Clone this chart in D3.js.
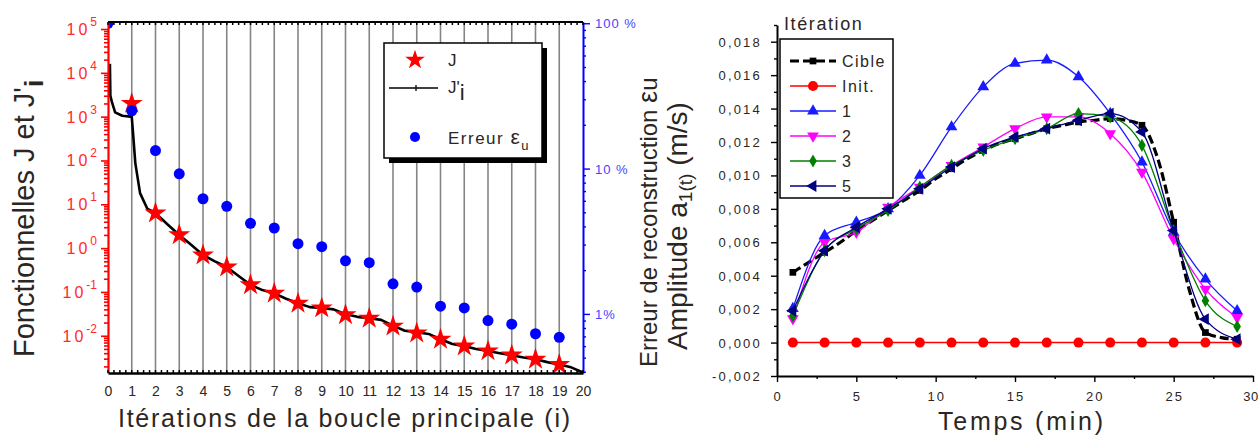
<!DOCTYPE html>
<html>
<head>
<meta charset="utf-8">
<script src="https://cdn.jsdelivr.net/npm/d3@7"></script>
<style>
  html, body { margin: 0; background: #fff; }
  svg { display: block; font-family: "Liberation Sans", Arial, sans-serif; }
</style>
</head>
<body>
<svg id="chart" width="1260" height="437"></svg>
<script>
// Panneau gauche : fonctionnelles J, J'i (échelle log) et erreur de reconstruction (%)
const iterJ = [1, 2, 3, 4, 5, 6, 7, 8, 9, 10, 11, 12, 13, 14, 15, 16, 17, 18, 19]
const valJ = [2000, 6.3, 2.0, 0.69, 0.37, 0.145, 0.093, 0.055, 0.043, 0.030, 0.025, 0.0165, 0.0115, 0.0083, 0.0058, 0.0045, 0.0036, 0.0029, 0.0022]

const iterJi = [0.08, 0.1, 0.16, 0.3, 0.6, 0.95, 1.0, 1.05, 1.1, 1.15, 1.35, 1.65, 1.85, 2, 2.5, 3, 3.5, 4, 4.5, 5, 5.5, 6, 6.5, 7, 7.5, 8, 8.5, 9, 9.5, 10, 10.5, 11, 11.5, 12, 12.5, 13, 13.5, 14, 14.5, 15, 15.5, 16, 16.5, 17, 17.5, 18, 18.5, 19, 19.5, 20]
const valJi = [16000, 3000, 2200, 1250, 1050, 1000, 1000, 450, 200, 87, 18, 8, 7, 6.3, 3.5, 2.0, 1.2, 0.70, 0.50, 0.37, 0.23, 0.145, 0.11, 0.093, 0.07, 0.055, 0.045, 0.043, 0.040, 0.031, 0.027, 0.025, 0.023, 0.017, 0.013, 0.012, 0.011, 0.0083, 0.0065, 0.0058, 0.005, 0.0045, 0.004, 0.0036, 0.0032, 0.0029, 0.0025, 0.0022, 0.0019, 0.00145]

const iterErr = [0, 1, 2, 3, 4, 5, 6, 7, 8, 9, 10, 11, 12, 13, 14, 15, 16, 17, 18, 19]
const valErr = [100, 25, 13.3, 9.2, 6.2, 5.5, 4.2, 3.9, 3.04, 2.9, 2.32, 2.25, 1.61, 1.53, 1.13, 1.10, 0.90, 0.85, 0.73, 0.69]

const iterTicks = [0, 1, 2, 3, 4, 5, 6, 7, 8, 9, 10, 11, 12, 13, 14, 15, 16, 17, 18, 19, 20]
const fonctExp = [-2, -1, 0, 1, 2, 3, 4, 5]
const errTicks = [1, 10, 100]
const errLabels = ["1%", "10 %", "100 %"]

// Panneau droit : amplitude a1(t)
const temps = [1, 3, 5, 7, 9, 11, 13, 15, 17, 19, 21, 23, 25, 27, 29]
const init = [0, 0, 0, 0, 0, 0, 0, 0, 0, 0, 0, 0, 0, 0, 0]
const iter1 = [0.00203, 0.0064, 0.0072, 0.0080, 0.0100, 0.0129, 0.0153, 0.0167, 0.0169, 0.0159, 0.0137, 0.0108, 0.0066, 0.0038, 0.0019]
const iter2 = [0.00143, 0.0060, 0.0066, 0.0081, 0.0093, 0.0106, 0.0117, 0.0128, 0.0135, 0.0135, 0.0125, 0.0102, 0.0062, 0.0032, 0.0015]
const iter3 = [0.0016, 0.0055, 0.0068, 0.0079, 0.0093, 0.0106, 0.0115, 0.0122, 0.0128, 0.0137, 0.0135, 0.0118, 0.0067, 0.0025, 0.00096]
const iter5 = [0.0019, 0.0055, 0.0069, 0.0080, 0.0092, 0.0105, 0.0116, 0.0123, 0.0128, 0.0133, 0.0137, 0.0126, 0.0067, 0.0014, 0.0002]
const tempsCible = [1, 2, 3, 4, 5, 6, 7, 8, 9, 10, 11, 12, 13, 14, 15, 16, 17, 18, 19, 20, 21, 22, 23, 24, 25, 26, 27, 28, 29]
const cible = [0.0042, 0.0048, 0.0054, 0.0060, 0.0067, 0.0073, 0.0079, 0.0085, 0.0091, 0.0098, 0.0104, 0.0110, 0.0115, 0.0119, 0.0122, 0.0125, 0.0128, 0.0130, 0.0132, 0.0133, 0.0134, 0.0133, 0.0130, 0.0110, 0.0072, 0.0031, 0.0006, 0.0003, 0.0002]
const seriesNames = ["Cible", "Init.", "1", "2", "3", "5"]
const tempsTicks = [0, 5, 10, 15, 20, 25, 30]
const ampTicks = [-0.002, 0, 0.002, 0.004, 0.006, 0.008, 0.010, 0.012, 0.014, 0.016, 0.018]

const svg = d3.select("#chart")
const TXT = "#2b2622"

// ---------------- Panneau gauche ----------------
const x = d3.scaleLinear().domain([0, 20]).range([108, 583])
const yJ = d3.scaleLog().domain([10 ** -2.85, 10 ** 5.16]).range([373, 22])
const yE = d3.scaleLog().domain([0.392, 102]).range([373, 22])
const yTop = 22, yBot = 373

// zone de tracé (les marqueurs sont coupés au cadre, comme dans Origin)
svg.append("clipPath").attr("id", "clipL")
  .append("rect").attr("x", x(0)).attr("y", yTop).attr("width", x(20) - x(0)).attr("height", yBot - yTop)

// grille verticale grise
svg.append("g").selectAll("line")
  .data(iterTicks.filter(d => d > 0 && d < 20))
  .join("line")
  .attr("x1", d => x(d)).attr("x2", d => x(d))
  .attr("y1", yTop).attr("y2", yBot)
  .attr("stroke", "#858585").attr("stroke-width", 1.6)

// axe gauche rouge (log)
const minorJ = []
for (let e = -3; e <= 5; e++) for (let m = 2; m <= 9; m++) {
  const v = m * 10 ** e
  if (v > yJ.domain()[0] && v < yJ.domain()[1]) minorJ.push(v)
}
const majorJ = fonctExp.map(e => 10 ** e)

// courbe J'i
const lineJi = d3.line().x(d => x(d[0])).y(d => yJ(d[1]))
svg.append("path")
  .datum(iterJi.map((t, i) => [t, valJi[i]]))
  .attr("d", lineJi)
  .attr("fill", "none").attr("stroke", "#000").attr("stroke-width", 2.6)
  .attr("stroke-linejoin", "round")

// étoiles J
const star = d3.symbol().type(d3.symbolStar).size(150)
svg.append("g").selectAll("path")
  .data(iterJ.map((t, i) => [t, valJ[i]]))
  .join("path")
  .attr("transform", d => `translate(${x(d[0])},${yJ(d[1])})`)
  .attr("d", star).attr("fill", "#ff0000")

// points erreur
const dot = d3.symbol().type(d3.symbolCircle).size(95)
svg.append("g").attr("clip-path", "url(#clipL)").selectAll("path")
  .data(iterErr.map((t, i) => [t, valErr[i]]))
  .join("path")
  .attr("transform", d => `translate(${x(d[0])},${yE(d[1])})`)
  .attr("d", dot).attr("fill", "#0000ff")

const gL = svg.append("g").attr("transform", `translate(${x(0)},0)`)
  .call(d3.axisLeft(yJ).tickValues(majorJ.concat(minorJ)).tickFormat("").tickSizeOuter(0))
gL.select(".domain").attr("stroke", "#ff0000").attr("stroke-width", 2.2)
gL.selectAll(".tick line").attr("stroke", "#ff0000").attr("stroke-width", 1.6)
  .attr("x2", d => majorJ.includes(d) ? -7 : -4)

const lblJ = svg.append("g").attr("fill", "#ff2a2a")
fonctExp.forEach(e => {
  const t = lblJ.append("text")
    .attr("x", 97).attr("y", yJ(10 ** e) + 6)
    .attr("text-anchor", "end")
  t.append("tspan").attr("font-size", 16).attr("letter-spacing", 3).text("10")
  t.append("tspan").attr("font-size", 12).attr("dy", -9).text(e)
})

// axe droit bleu (log, %)
const minorE = []
for (let e = -1; e <= 1; e++) for (let m = 2; m <= 9; m++) {
  const v = m * 10 ** e
  if (v > yE.domain()[0] && v < yE.domain()[1]) minorE.push(v)
}
const gR = svg.append("g").attr("transform", `translate(${x(20)},0)`)
  .call(d3.axisRight(yE).tickValues(errTicks.concat(minorE)).tickFormat("").tickSizeOuter(0))
gR.select(".domain").attr("stroke", "#0000ff").attr("stroke-width", 2)
gR.selectAll(".tick line").attr("stroke", "#0000ff").attr("stroke-width", 1.4)
  .attr("x2", d => errTicks.includes(d) ? 7 : 3)
svg.append("g").selectAll("text")
  .data(errTicks)
  .join("text")
  .attr("x", x(20) + 12).attr("y", d => yE(d) + 5)
  .attr("fill", "#4444ff").attr("font-size", 13).attr("letter-spacing", 1)
  .text((d, i) => errLabels[i])

// axes haut et bas (noirs, tirets internes)
const minorX = d3.range(0, 20.01, 0.25)
svg.append("line").attr("x1", x(0)).attr("x2", x(20)).attr("y1", yTop).attr("y2", yTop)
  .attr("stroke", "#000").attr("stroke-width", 2)
svg.append("g").selectAll("line").data(minorX).join("line")
  .attr("x1", d => x(d)).attr("x2", d => x(d)).attr("y1", yTop).attr("y2", yTop + 3)
  .attr("stroke", "#000").attr("stroke-width", 1.5)
const gB = svg.append("g").attr("transform", `translate(0,${yBot})`)
  .call(d3.axisBottom(x).tickValues(iterTicks).tickSize(0).tickPadding(13))
gB.select(".domain").attr("stroke", "#000").attr("stroke-width", 2.4)
gB.selectAll(".tick text").attr("font-size", 14).attr("fill", TXT)
  .attr("font-family", "Liberation Sans, Arial, sans-serif")
svg.append("g").selectAll("line").data(minorX).join("line")
  .attr("x1", d => x(d)).attr("x2", d => x(d)).attr("y1", yBot - 3).attr("y2", yBot)
  .attr("stroke", "#000").attr("stroke-width", 1.5)

// légende gauche
svg.append("rect").attr("x", 389).attr("y", 48).attr("width", 158).attr("height", 115).attr("fill", "#000")
svg.append("rect").attr("x", 384).attr("y", 43).attr("width", 158).attr("height", 115)
  .attr("fill", "#fff").attr("stroke", "#000").attr("stroke-width", 1.5)
svg.append("path").attr("transform", "translate(415,60)").attr("d", d3.symbol().type(d3.symbolStar).size(120)).attr("fill", "#ff0000")
svg.append("text").attr("x", 448).attr("y", 66).attr("font-size", 17).attr("fill", TXT).text("J")
svg.append("line").attr("x1", 389).attr("x2", 438).attr("y1", 88).attr("y2", 88).attr("stroke", "#000").attr("stroke-width", 1.3)
svg.append("line").attr("x1", 416).attr("x2", 416).attr("y1", 85).attr("y2", 91).attr("stroke", "#000").attr("stroke-width", 1.3)
const tJi = svg.append("text").attr("x", 448).attr("y", 93).attr("font-size", 17).attr("fill", TXT)
tJi.append("tspan").text("J'")
tJi.append("tspan").attr("font-size", 22).attr("dy", 7).text("i")
svg.append("path").attr("transform", "translate(415,137)").attr("d", d3.symbol().type(d3.symbolCircle).size(80)).attr("fill", "#0000ff")
const tErr = svg.append("text").attr("x", 448).attr("y", 144).attr("font-size", 17).attr("fill", TXT).attr("letter-spacing", 1.5)
tErr.append("tspan").text("Erreur ")
tErr.append("tspan").attr("font-size", 21).text("ε")
tErr.append("tspan").attr("font-size", 13).attr("dy", 6).text("u")

// titres gauche
const tY = svg.append("text").attr("transform", "translate(34,357) rotate(-90)")
  .attr("font-size", 29).attr("fill", TXT)
tY.append("tspan").text("Fonctionnelles J et J'")
tY.append("tspan").attr("font-size", 26).attr("font-weight", "bold").attr("dy", 9).text("i")

svg.append("text").attr("x", 118).attr("y", 427).attr("font-size", 25).attr("fill", TXT)
  .attr("textLength", 452).attr("lengthAdjust", "spacing")
  .text("Itérations de la boucle principale (i)")

const tE = svg.append("text").attr("transform", "translate(657,367) rotate(-90)")
  .attr("font-size", 24).attr("fill", TXT)
tE.append("tspan").text("Erreur de reconstruction ")
tE.append("tspan").attr("font-size", 27).text("ε")
tE.append("tspan").text("u")

// ---------------- Panneau droit ----------------
const x2 = d3.scaleLinear().domain([0, 30]).range([777, 1253])
const y2 = d3.scaleLinear().domain([-0.002, 0.019]).range([376, 25])
const fmtAmp = d => d3.format(".3f")(d).replace(".", ",").replace("−", "-")

const minorAmp = []
for (let k = -1; k <= 19; k += 2) minorAmp.push(k / 1000)
const gY2 = svg.append("g").attr("transform", `translate(${x2(0)},0)`)
  .call(d3.axisLeft(y2).tickValues(ampTicks.concat(minorAmp)).tickFormat("").tickSizeOuter(0))
gY2.select(".domain").attr("stroke", "#000").attr("stroke-width", 2)
gY2.selectAll(".tick line").attr("stroke", "#000").attr("stroke-width", 1.4)
  .attr("x2", d => ampTicks.some(a => Math.abs(a - d) < 1e-9) ? -6 : -3)
svg.append("g").selectAll("text")
  .data(ampTicks)
  .join("text")
  .attr("x", 762).attr("y", d => y2(d) + 5)
  .attr("text-anchor", "end").attr("font-size", 13).attr("letter-spacing", 2.2)
  .attr("fill", TXT)
  .text(fmtAmp)

const minorT = [2.5, 7.5, 12.5, 17.5, 22.5, 27.5]
const gX2 = svg.append("g").attr("transform", `translate(0,${y2(-0.002)})`)
  .call(d3.axisBottom(x2).tickValues(tempsTicks.concat(minorT)).tickFormat("").tickSizeOuter(0))
gX2.select(".domain").attr("stroke", "#000").attr("stroke-width", 2)
gX2.selectAll(".tick line").attr("stroke", "#000").attr("stroke-width", 1.4)
  .attr("y2", d => tempsTicks.includes(d) ? 6 : 3)
svg.append("g").selectAll("text")
  .data(tempsTicks)
  .join("text")
  .attr("x", d => x2(d) + (d === 30 ? -2 : 1)).attr("y", 401)
  .attr("text-anchor", "middle").attr("font-size", 13).attr("letter-spacing", d => d === 30 ? 0.5 : 2)
  .attr("fill", TXT)
  .text(d => d)

const line2 = d3.line().x(d => x2(d[0])).y(d => y2(d[1])).curve(d3.curveMonotoneX)
const sym = (type, size, rot) => ({ path: d3.symbol().type(type).size(size)(), rot })
const styles = [
  { vals: cible, t: tempsCible, color: "#000", width: 3.2, dash: "9,4", marker: sym(d3.symbolSquare, 45, 0) },
  { vals: init, t: temps, color: "#ff0000", width: 1.6, dash: null, marker: sym(d3.symbolCircle, 80, 0) },
  { vals: iter1, t: temps, color: "#1a1aff", width: 1.3, dash: null, marker: sym(d3.symbolTriangle, 60, 0) },
  { vals: iter2, t: temps, color: "#ff00ff", width: 1.3, dash: null, marker: sym(d3.symbolTriangle, 60, 180) },
  { vals: iter3, t: temps, color: "#008000", width: 1.3, dash: null, marker: sym(d3.symbolDiamond, 50, 0) },
  { vals: iter5, t: temps, color: "#000080", width: 1.3, dash: null, marker: sym(d3.symbolTriangle, 60, -90) },
]

styles.forEach((s, k) => {
  const pts = s.t.map((t, i) => [t, s.vals[i]])
  svg.append("path").datum(pts).attr("d", line2)
    .attr("fill", "none").attr("stroke", s.color).attr("stroke-width", s.width)
    .attr("stroke-dasharray", s.dash)
  svg.append("g").selectAll("path")
    .data(k === 0 ? pts.filter(p => p[0] % 2 === 1) : pts)
    .join("path")
    .attr("transform", d => `translate(${x2(d[0])},${y2(d[1])}) rotate(${s.marker.rot})`)
    .attr("d", s.marker.path).attr("fill", s.color)
})

// légende droite
svg.append("text").attr("x", 784).attr("y", 30).attr("font-size", 18).attr("letter-spacing", 1.6)
  .attr("fill", TXT).text("Itération")
svg.append("rect").attr("x", 780).attr("y", 39).attr("width", 113).attr("height", 159)
  .attr("fill", "#fff").attr("stroke", "#000").attr("stroke-width", 1.5)
styles.forEach((s, k) => {
  const ly = 61 + k * 25
  svg.append("line").attr("x1", 790).attr("x2", 836).attr("y1", ly).attr("y2", ly)
    .attr("stroke", s.color).attr("stroke-width", k === 0 ? 3.2 : 1.4).attr("stroke-dasharray", k === 0 ? "9,4" : null)
  svg.append("path").attr("transform", `translate(813,${ly}) rotate(${s.marker.rot})`)
    .attr("d", s.marker.path).attr("fill", s.color)
  svg.append("text").attr("x", 842).attr("y", ly + 6).attr("font-size", 16).attr("letter-spacing", 1.5)
    .attr("fill", TXT).text(seriesNames[k])
})

// titres droite
const tA = svg.append("text").attr("transform", "translate(687,350) rotate(-90)")
  .attr("font-size", 28).attr("fill", TXT)
tA.append("tspan").text("Amplitude a")
tA.append("tspan").attr("font-size", 19).attr("dy", 5).text("1(t)")
tA.append("tspan").attr("dy", -5).text(" (m/s)")

svg.append("text").attr("x", 938).attr("y", 430).attr("font-size", 25).attr("fill", TXT)
  .attr("textLength", 165).attr("lengthAdjust", "spacing")
  .text("Temps (min)")
</script>
</body>
</html>
